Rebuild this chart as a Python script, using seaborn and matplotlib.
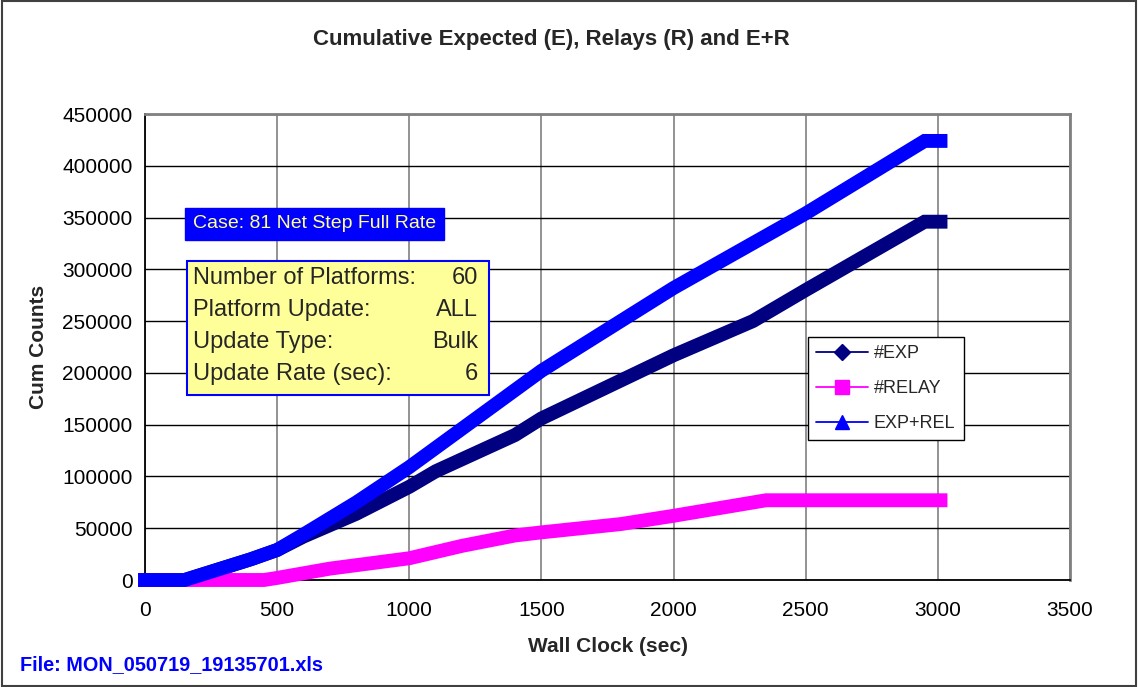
import matplotlib
matplotlib.use("Agg")
import matplotlib.pyplot as plt
import seaborn as sns
import pandas as pd
from matplotlib.lines import Line2D

sns.set_theme(style="white")
plt.rcParams['font.family'] = ['Liberation Sans', 'DejaVu Sans']

# Data (breakpoints)
exp_x = [0, 150, 250, 400, 500, 600, 800, 1000, 1100, 1400, 1500, 2000, 2300, 2500, 2950, 3010]
exp_y = [0, 0, 8000, 20000, 29000, 42000, 64000, 90000, 105000, 140000, 156000, 217000, 250000, 280000, 346000, 346000]
relay_x = [0, 450, 500, 700, 1000, 1200, 1400, 1500, 1800, 2000, 2350, 3010]
relay_y = [0, 0, 2000, 11000, 21000, 33000, 43000, 46000, 54000, 62000, 77000, 77000]
sum_x = [0, 150, 250, 400, 500, 600, 800, 1000, 1500, 2000, 2500, 2950, 3010]
sum_y = [0, 0, 8000, 20000, 29000, 44000, 75000, 109000, 202000, 282000, 354000, 424000, 424000]

x_ticks = [0, 500, 1000, 1500, 2000, 2500, 3000, 3500]
y_ticks = [0, 50000, 100000, 150000, 200000, 250000, 300000, 350000, 400000, 450000]

labels = ["#EXP", "#RELAY", "EXP+REL"]
colors = ["#000080", "#FF00FF", "#0000FF"]
markers = ["D", "s", "^"]

df = pd.concat([
    pd.DataFrame({"x": exp_x, "y": exp_y, "series": labels[0]}),
    pd.DataFrame({"x": relay_x, "y": relay_y, "series": labels[1]}),
    pd.DataFrame({"x": sum_x, "y": sum_y, "series": labels[2]}),
])

fig = plt.figure(figsize=(11.38, 6.87), dpi=100)
ax = fig.add_axes([145/1138, 1-580/687, (1070-145)/1138, (580-114)/687])

for lab, col in zip(labels, colors):
    sub = df[df.series == lab]
    sns.lineplot(data=sub, x="x", y="y", ax=ax, color=col, linewidth=10,
                 solid_joinstyle="miter", solid_capstyle="projecting",
                 legend=False, zorder=3, sort=False, clip_on=False)

ax.set_xlim(0, 3500)
ax.set_ylim(0, 450000)
ax.set_xticks(x_ticks)
ax.set_yticks(y_ticks)
ax.set_xticklabels([str(v) for v in x_ticks], fontsize=15, color="black")
ax.set_yticklabels([str(v) for v in y_ticks], fontsize=15, color="black")
ax.tick_params(axis="both", direction="out", length=4, width=1, color="black")
ax.tick_params(axis="x", pad=11)
ax.tick_params(axis="y", pad=5)
ax.xaxis.grid(True, color="#808080", linewidth=1.2)
ax.yaxis.grid(True, color="black", linewidth=1.0)
ax.set_axisbelow(True)
for s in ["left", "bottom"]:
    ax.spines[s].set_color("black")
    ax.spines[s].set_linewidth(1.3)
for s in ["top", "right"]:
    ax.spines[s].set_color("#808080")
    ax.spines[s].set_linewidth(2)
ax.set_xlabel("Wall Clock (sec)", fontsize=15, fontweight="bold", labelpad=12)
ax.set_ylabel("Cum Counts", fontsize=15, fontweight="bold", labelpad=10)

fig.text(551/1138, 1-40/687, "Cumulative Expected (E), Relays (R) and E+R",
         ha="center", va="center", fontsize=16, fontweight="bold")
fig.text(20/1138, 1-665/687, "File: MON_050719_19135701.xls", ha="left", va="center",
         fontsize=14.3, fontweight="bold", color="#0000FF")

# Case box
fig.text(193/1138, 1-224/687, "Case: 81 Net Step Full Rate", ha="left", va="center",
         fontsize=14, color="#FFFF99",
         bbox=dict(boxstyle="square,pad=0.4", facecolor="#0000FF", edgecolor="#0000FF"))

# Info box
rect = plt.Rectangle((187/1138, 1-395/687), (489-187)/1138, (395-261)/687,
                     transform=fig.transFigure, facecolor="#FFFF99", edgecolor="#0000FF",
                     linewidth=1.5, zorder=5)
fig.add_artist(rect)
rows_l = ["Number of Platforms:", "Platform Update:", "Update Type:", "Update Rate (sec):"]
rows_r = ["60", "ALL", "Bulk", "6"]
for i, (l, r) in enumerate(zip(rows_l, rows_r)):
    yy = 1 - (278 + i * 32) / 687
    fig.text(193/1138, yy, l, ha="left", va="center", fontsize=17, zorder=6)
    fig.text(478/1138, yy, r, ha="right", va="center", fontsize=17, zorder=6)

# Legend
handles = [Line2D([0], [0], color=c, marker=m, markersize=8 if m == "D" else 10, linewidth=1.3,
                  markerfacecolor=c, markeredgecolor=c) for c, m in zip(colors, markers)]
leg = ax.legend(handles, labels, loc="upper left",
                bbox_to_anchor=((808-145)/(1070-145), (580-337)/(580-114)),
                fontsize=13, frameon=True, fancybox=False, edgecolor="black", framealpha=1,
                borderpad=0.45, labelspacing=1.0, handlelength=2.9, handletextpad=0.3,
                borderaxespad=0)
leg.get_frame().set_linewidth(1.0)
leg.set_zorder(10)

# Figure border
border = plt.Rectangle((0.002, 0.002), 0.996, 0.996, transform=fig.transFigure,
                       facecolor="none", edgecolor="#404040", linewidth=1.5)
fig.add_artist(border)

fig.savefig("out.png", dpi=100)
